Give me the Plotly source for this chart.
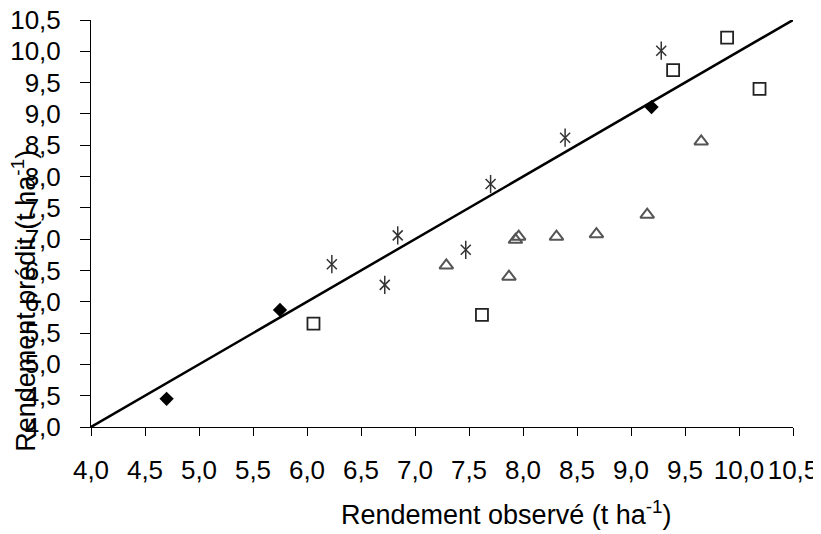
import plotly.graph_objects as go

# Data
diamond_x = [4.70, 5.75, 9.19]
diamond_y = [4.45, 5.87, 9.11]

star_x = [6.23, 6.72, 6.84, 7.47, 7.70, 8.39, 9.28]
star_y = [6.60, 6.27, 7.06, 6.83, 7.88, 8.62, 10.01]

tri_x = [7.29, 7.87, 7.93, 7.96, 8.31, 8.68, 9.15, 9.65]
tri_y = [6.58, 6.40, 6.99, 7.04, 7.04, 7.08, 7.39, 8.56]

sq_x = [6.06, 7.62, 9.39, 9.89, 10.19]
sq_y = [5.65, 5.79, 9.70, 10.22, 9.40]

line_x = [4.0, 10.55]
line_y = [4.0, 10.55]

x_title = "Rendement observé (t ha<sup>-1</sup>)"
y_title = "Rendement prédit (t ha<sup>-1</sup>)"

FONT = "Liberation Sans, Arial, sans-serif"

fig = go.Figure()

fig.add_trace(go.Scatter(x=line_x, y=line_y, mode="lines",
                         line=dict(color="#000000", width=2.5),
                         showlegend=False, cliponaxis=False))

fig.add_trace(go.Scatter(x=diamond_x, y=diamond_y, mode="markers",
                         marker=dict(symbol="diamond", size=11, color="#000000"),
                         showlegend=False, cliponaxis=False))

# six-armed asterisk = x-thin + vertical line, same data
fig.add_trace(go.Scatter(x=star_x, y=star_y, mode="markers",
                         marker=dict(symbol="x-thin-open", size=10, color="#333333",
                                     line=dict(color="#333333", width=1.5)),
                         showlegend=False))
fig.add_trace(go.Scatter(x=star_x, y=star_y, mode="markers",
                         marker=dict(symbol="line-ns-open", size=13, color="#333333",
                                     line=dict(color="#333333", width=1.5)),
                         showlegend=False))

fig.add_trace(go.Scatter(x=tri_x, y=tri_y, mode="markers",
                         marker=dict(symbol="triangle-up-open", size=12,
                                     color="#555555",
                                     line=dict(color="#555555", width=2)),
                         showlegend=False))

fig.add_trace(go.Scatter(x=sq_x, y=sq_y, mode="markers",
                         marker=dict(symbol="square-open", size=12,
                                     color="#222222",
                                     line=dict(color="#222222", width=1.8)),
                         showlegend=False))

axis_common = dict(
    range=[4.0, 10.5], dtick=0.5, tick0=4.0, tickformat=".1f",
    showgrid=False, zeroline=False, showline=True, automargin=False,
    linecolor="#000000", linewidth=1, tickangle=0,
    ticks="outside", tickcolor="#000000", tickwidth=1,
    tickfont=dict(family=FONT, size=26, color="#000000"),
)

fig.update_xaxes(**axis_common, ticklen=8, ticklabelstandoff=12)
fig.update_yaxes(**axis_common, ticklen=10, ticklabelstandoff=14)

fig.add_annotation(text=x_title,
                   xref="paper", yref="paper", x=0.591, y=0,
                   yshift=-86, xanchor="center", yanchor="middle",
                   showarrow=False,
                   font=dict(family=FONT, size=27, color="#000000"))

fig.add_annotation(text=y_title,
                   xref="paper", yref="paper", x=0, y=0.31,
                   xshift=-67, xanchor="center", yanchor="middle",
                   textangle=-90, showarrow=False,
                   font=dict(family=FONT, size=27, color="#000000"))

# page body adds an 8px offset; size the figure to fill the 821x534 window
fig.update_layout(
    width=813, height=526,
    margin=dict(l=83, r=28, t=12, b=107),
    paper_bgcolor="#ffffff", plot_bgcolor="#ffffff",
    separators=", ",
    font=dict(family=FONT, color="#000000"),
)

fig.write_html("out.html")
